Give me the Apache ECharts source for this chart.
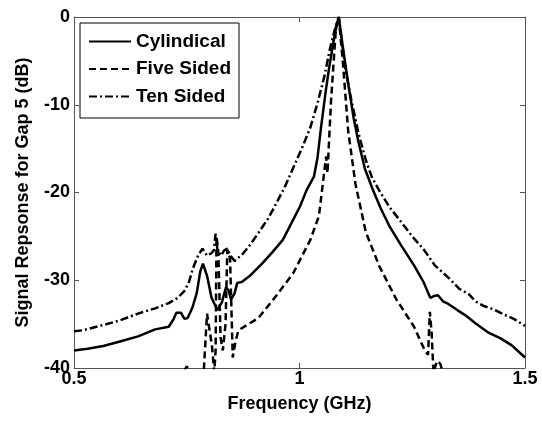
<!DOCTYPE html>
<html><head><meta charset="utf-8">
<script src="https://cdn.jsdelivr.net/npm/echarts@6/dist/echarts.min.js"></script>
<style>html,body{margin:0;padding:0;background:#fff}#c{width:542px;height:421px}</style>
</head><body><div id="c"></div>
<script>
const seriesNames = ['Cylindical', 'Five Sided', 'Ten Sided'];
const xTicks = [0.5, 1, 1.5];
const yTicks = [0, -10, -20, -30, -40];

const cylFreq = [0.5,0.53,0.565,0.6,0.642,0.68,0.71,0.72,0.727,0.737,0.745,0.752,0.762,0.772,0.78,0.786,0.795,0.805,0.818,0.828,0.837,0.843,0.848,0.856,0.862,0.872,0.89,0.917,0.94,0.963,0.985,1.001,1.016,1.032,1.04,1.047,1.058,1.066,1.078,1.087,1.095,1.108,1.12,1.131,1.145,1.162,1.18,1.2,1.225,1.254,1.275,1.29,1.298,1.307,1.318,1.33,1.35,1.368,1.39,1.42,1.445,1.47,1.5];
const cylDb = [-38.0,-37.8,-37.5,-37.0,-36.4,-35.6,-35.3,-34.5,-33.7,-33.7,-34.4,-34.3,-33.2,-31.5,-29,-28.1,-29.5,-32,-33.4,-32.5,-30.8,-31.2,-32.2,-31.5,-30.3,-30.2,-29.5,-28.1,-26.8,-25.4,-23.2,-21.6,-19.7,-18.2,-16,-12.9,-8.5,-5.7,-2,0,-3,-7.6,-11.5,-14.3,-17.3,-19.6,-21.8,-23.9,-26,-28.3,-30.2,-32.0,-31.8,-31.7,-32.4,-32.7,-33.4,-34.0,-34.9,-36.0,-36.6,-37.4,-38.8];

const fiveFreq = [0.745,0.75,0.755,0.787,0.795,0.80,0.806,0.811,0.814,0.816,0.82,0.825,0.83,0.836,0.84,0.846,0.852,0.858,0.864,0.871,0.909,0.948,0.986,1.024,1.043,1.051,1.059,1.062,1.07,1.081,1.087,1.097,1.108,1.124,1.147,1.177,1.215,1.254,1.277,1.285,1.289,1.293,1.297,1.305,1.312,1.318];
const fiveDb = [-40.3,-39.8,-40.3,-41,-33.8,-35.5,-37.5,-40.5,-38,-25,-26.8,-36.5,-38,-35,-26.5,-27.5,-38.8,-37,-35.8,-35.5,-34.3,-31.8,-29.2,-25.4,-22.7,-19.3,-15.9,-17.8,-9.5,-1.1,0,-5.7,-13,-19,-24.5,-28.4,-32.2,-35.3,-37.9,-38.5,-33.6,-36,-40.5,-39.2,-39.5,-40.5];

const tenFreq = [0.5,0.52,0.565,0.6,0.642,0.68,0.71,0.73,0.745,0.755,0.764,0.775,0.785,0.795,0.805,0.81,0.814,0.818,0.826,0.833,0.84,0.847,0.856,0.865,0.871,0.89,0.909,0.93,0.948,0.968,0.986,1.005,1.024,1.04,1.055,1.068,1.078,1.087,1.095,1.101,1.115,1.131,1.147,1.16,1.177,1.2,1.223,1.25,1.277,1.3,1.33,1.355,1.376,1.39,1.407,1.43,1.453,1.475,1.5];
const tenDb = [-35.8,-35.7,-35.1,-34.6,-33.8,-33.2,-32.6,-32.0,-31.2,-30.2,-28.6,-27.2,-26.4,-27.2,-26.9,-26.6,-24.7,-26.5,-27.2,-26.6,-26.4,-27.2,-27.8,-27.4,-27.2,-26,-24.6,-23,-21.3,-19.3,-17.2,-15,-12.6,-9.8,-6.8,-3.5,-1.5,0,-3.2,-5.7,-9.5,-13.3,-16.3,-18.2,-19.8,-21.7,-23.2,-25.0,-26.6,-28.3,-29.7,-31.0,-31.6,-32.4,-32.9,-33.3,-33.9,-34.4,-35.2];

const zip = (a, b) => a.map((v, i) => [v, b[i]]);
const FONT = 'Liberation Sans, Arial, sans-serif';
const chart = echarts.init(document.getElementById('c'), null, {renderer: 'canvas'});
const axisLineStyle = {color: '#555', width: 1};
const mkSeries = (name, data, type) => ({
  name, type: 'line', data, showSymbol: false, symbol: 'none', clip: true,
  lineStyle: {color: '#000', width: 2.5, type},
  itemStyle: {color: '#000'}, animation: false
});
chart.setOption({
  animation: false,
  backgroundColor: '#fff',
  grid: {left: 74, right: 17, top: 17, bottom: 53},
  legend: {
    left: 80, top: 23, orient: 'vertical',
    data: seriesNames,
    itemWidth: 42, itemHeight: 16, itemGap: 8.5,
    padding: [9, 8, 12, 8],
    borderColor: '#000', borderWidth: 1, backgroundColor: '#fff',
    itemStyle: {opacity: 0},
    textStyle: {fontFamily: FONT, fontWeight: 'bold', fontSize: 19, color: '#000'}
  },
  xAxis: [{
    type: 'value', min: 0.5, max: 1.5, interval: 0.5,
    name: 'Frequency (GHz)', nameLocation: 'middle', nameGap: 27,
    nameTextStyle: {fontFamily: FONT, fontWeight: 'bold', fontSize: 18, color: '#000'},
    axisLine: {show: true, onZero: false, lineStyle: axisLineStyle},
    axisTick: {show: true, inside: true, length: 5, lineStyle: axisLineStyle},
    axisLabel: {fontFamily: FONT, fontWeight: 'bold', fontSize: 18, color: '#000', margin: 2,
      formatter: v => xTicks.includes(v) ? String(v) : ''},
    splitLine: {show: false}
  }, {
    type: 'value', min: 0.5, max: 1.5, interval: 0.5, position: 'top',
    axisLine: {show: true, onZero: false, lineStyle: axisLineStyle},
    axisTick: {show: true, inside: true, length: 5, lineStyle: axisLineStyle},
    axisLabel: {show: false}, splitLine: {show: false}
  }],
  yAxis: [{
    type: 'value', min: -40, max: 0, interval: 10,
    name: 'Signal Repsonse for Gap 5 (dB)', nameLocation: 'middle', nameGap: 42,
    nameTextStyle: {fontFamily: FONT, fontWeight: 'bold', fontSize: 18, color: '#000'},
    axisLine: {show: true, onZero: false, lineStyle: axisLineStyle},
    axisTick: {show: true, inside: true, length: 5, lineStyle: axisLineStyle},
    axisLabel: {fontFamily: FONT, fontWeight: 'bold', fontSize: 18, color: '#000', margin: 4,
      formatter: v => yTicks.includes(v) ? String(v) : ''},
    splitLine: {show: false}
  }, {
    type: 'value', min: -40, max: 0, interval: 10, position: 'right',
    axisLine: {show: true, onZero: false, lineStyle: axisLineStyle},
    axisTick: {show: true, inside: true, length: 5, lineStyle: axisLineStyle},
    axisLabel: {show: false}, splitLine: {show: false}
  }],
  series: [
    mkSeries(seriesNames[0], zip(cylFreq, cylDb), 'solid'),
    mkSeries(seriesNames[1], zip(fiveFreq, fiveDb), [7, 4]),
    mkSeries(seriesNames[2], zip(tenFreq, tenDb), [8, 3, 2, 3])
  ]
});
</script></body></html>
